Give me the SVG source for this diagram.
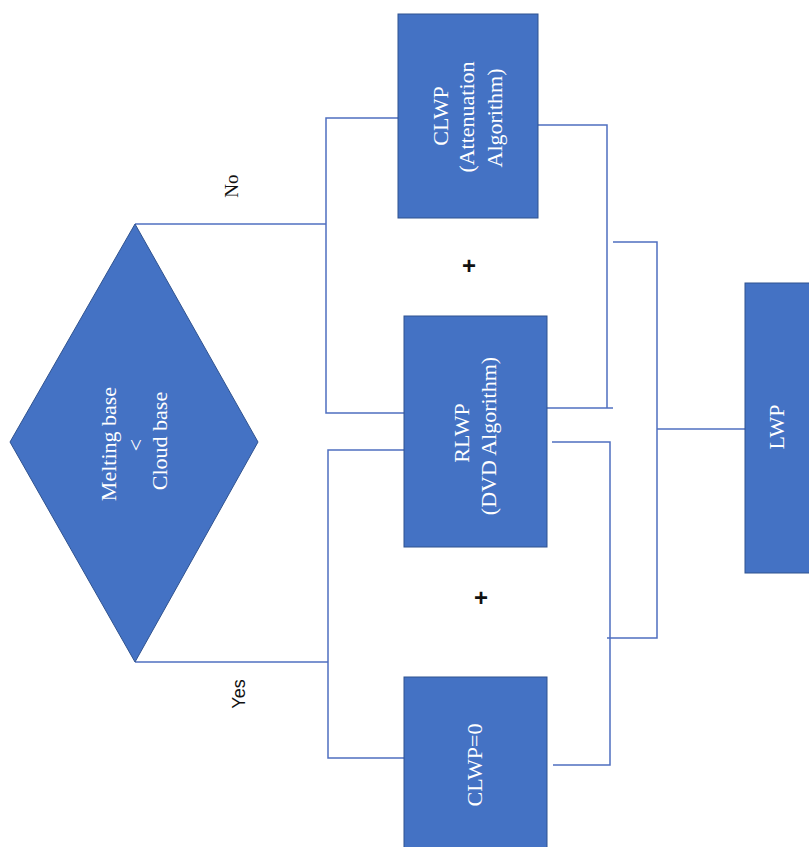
<svg xmlns="http://www.w3.org/2000/svg" width="809" height="847" viewBox="0 0 809 847">
<style>
.node{fill:#4472C4;stroke:#2F528F;stroke-width:1}
.lbl{font-family:"Liberation Serif","Times New Roman",serif;font-size:22px;fill:#ffffff;text-anchor:middle;dominant-baseline:central}
.conn{fill:none;stroke:#4F6FC0;stroke-width:1.5}
.dark{font-family:"Liberation Serif","Times New Roman",serif;font-size:19px;fill:#111111;text-anchor:middle;dominant-baseline:central}
.plus{font-family:"Liberation Sans",Arial,sans-serif;font-size:24px;font-weight:bold;fill:#111111;text-anchor:middle;dominant-baseline:central}
</style>
<rect width="809" height="847" fill="#ffffff"/>
<g id="connectors">
<polyline class="conn" points="135,224 326,224"/>
<polyline class="conn" points="399,118 326,118 326,413 404,413"/>
<polyline class="conn" points="135,662 328,662"/>
<polyline class="conn" points="404,450 328,450 328,758 404,758"/>
<polyline class="conn" points="538,125 607,125 607,408"/>
<polyline class="conn" points="547,408 613,408"/>
<polyline class="conn" points="552,442 610,442 610,765 553,765"/>
<polyline class="conn" points="613,242 657,242 657,638 607,638"/>
<polyline class="conn" points="657,429 745,429"/>
</g>
<g id="decision">
<polygon class="node" points="135,224 258,442 135,662 10,442"/>
<text class="lbl" x="108" y="444" transform="rotate(-90 108 444)">Melting base</text>
<text class="lbl" x="135" y="445" transform="rotate(-90 135 445)">&lt;</text>
<text class="lbl" x="159" y="441" transform="rotate(-90 159 441)">Cloud base</text>
</g>
<g id="clwp-att">
<rect class="node" x="398" y="14" width="140" height="204"/>
<text class="lbl" x="440" y="116" transform="rotate(-90 440 116)">CLWP</text>
<text class="lbl" x="466" y="117" transform="rotate(-90 466 117)">(Attenuation</text>
<text class="lbl" x="494" y="118" transform="rotate(-90 494 118)">Algorithm)</text>
</g>
<g id="rlwp">
<rect class="node" x="404" y="316" width="143" height="231"/>
<text class="lbl" x="461" y="433" transform="rotate(-90 461 433)">RLWP</text>
<text class="lbl" x="488" y="436" transform="rotate(-90 488 436)">(DVD Algorithm)</text>
</g>
<g id="clwp0">
<rect class="node" x="404" y="677" width="143" height="175"/>
<text class="lbl" x="474" y="765" transform="rotate(-90 474 765)">CLWP=0</text>
</g>
<g id="lwp">
<rect class="node" x="745" y="283" width="70" height="290"/>
<text class="lbl" x="776" y="427" transform="rotate(-90 776 427)">LWP</text>
</g>
<g id="labels">
<text class="dark" x="231" y="186" transform="rotate(-90 231 186)">No</text>
<text class="dark" x="239" y="694" transform="rotate(-90 239 694)" style="font-family:'Liberation Sans',Arial,sans-serif;font-size:18px">Yes</text>
<text class="plus" x="469" y="265">+</text>
<text class="plus" x="481" y="597">+</text>
</g>
</svg>
